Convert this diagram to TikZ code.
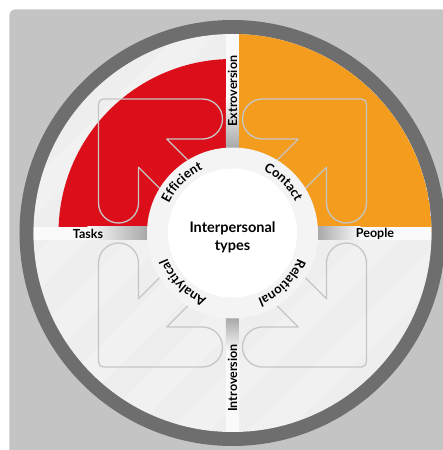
\documentclass[tikz,border=0pt]{standalone}
\usepackage{fontspec}
\setmainfont{Lato}
\usetikzlibrary{decorations.text}
\definecolor{bggray}{RGB}{196,196,196}
\definecolor{ringgray}{RGB}{110,110,110}
\definecolor{diskgray}{RGB}{238,238,238}
\definecolor{taskred}{RGB}{220,14,26}
\definecolor{peopleorange}{RGB}{243,156,30}
\definecolor{outlinegray}{RGB}{198,198,198}
\definecolor{labelring}{RGB}{244,244,244}
\definecolor{stripwhite}{RGB}{250,250,250}
\definecolor{bargray}{RGB}{168,168,168}
\tikzstyle{arrowshape} = [draw=outlinegray, line width=1.3pt, line join=round]
\tikzstyle{axislabel} = [font=\bfseries\fontsize{12.5}{12.5}\selectfont, inner sep=0pt]
\newcommand{\ringlabel}[2]{\path[decorate, decoration={text along path, text align=center,
    text={|\bfseries\fontsize{13}{13}\selectfont|#2}}]
    (#1+45:70pt) arc[start angle=#1+45, end angle=#1-45, radius=70pt];}

\begin{document}
\begin{tikzpicture}[x=1pt, y=1pt]
      \useasboundingbox (-232.5,-217) rectangle (210.5,233);
      \clip (-232.5,-217) rectangle (210.5,233);
      \fill[bggray, rounded corners=5pt] (-223,-240) rectangle (240,223.5);
      \fill[ringgray] (0,0) circle[radius=213pt];
      \fill[diskgray] (0,0) circle[radius=199pt];
      \begin{scope}
        \clip (0,0) circle[radius=199pt];
        \foreach \i in {-5,...,5}
          \fill[white, opacity=0.22, rotate=-45] (\i*55-14,-220) rectangle (\i*55+14,220);
        \fill[peopleorange] (0,0) -- (0:199pt) arc[start angle=0, end angle=90, radius=199pt] -- cycle;
        \fill[taskred] (0,0) -- (90:174pt) arc[start angle=90, end angle=180, radius=174pt] -- cycle;
        \foreach \r in {0,-90,-180,-270}
          \draw[arrowshape, rotate=\r] (-65.7,94) -- (0,28.3) -- (-28.3,0) -- (-94,65.7) -- (-94,30)
            arc[start angle=0, end angle=-180, radius=20pt] -- (-134,129)
            arc[start angle=180, end angle=90, radius=5pt] -- (-30,134)
            arc[start angle=90, end angle=-90, radius=20pt] -- cycle;
        \fill[stripwhite] (-200,-6.5) rectangle (200,6.5);
        \fill[stripwhite] (-6.5,-200) rectangle (6.5,200);
      \end{scope}
      \shade[left color=stripwhite, right color=bargray] (-145,-6.5) rectangle (-85,6.5);
      \shade[left color=bargray, right color=stripwhite] (85,-6.5) rectangle (128,6.5);
      \shade[bottom color=bargray, top color=stripwhite] (-6.5,85) rectangle (6.5,135);
      \shade[top color=bargray, bottom color=stripwhite] (-6.5,-118) rectangle (6.5,-85);
      \fill[labelring] (0,0) circle[radius=85.5pt];
      \fill[white] (0,0) circle[radius=64.5pt];
      \node[axislabel] (tasks) at (-144.5,-1) {Tasks};
      \node[axislabel] (people) at (142.5,-1) {People};
      \node[axislabel, rotate=90] (extro) at (0,142) {Extroversion};
      \node[axislabel, rotate=90] (intro) at (0,-145) {Introversion};
      \node[font=\bfseries\fontsize{14.5}{18}\selectfont, align=center] (title) at (0,-4) {Interpersonal\\types};
      \ringlabel{135}{Efficient}
      \ringlabel{45}{Contact}
      \ringlabel{-45}{Relational}
      \ringlabel{-135}{Analytical}
    \end{tikzpicture}
\end{document}
